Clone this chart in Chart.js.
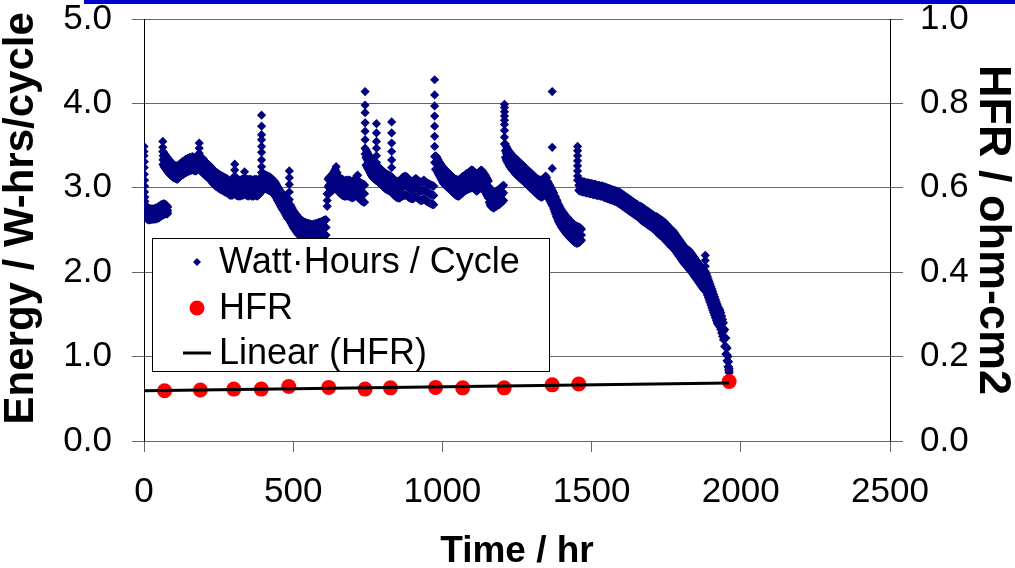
<!DOCTYPE html>
<html>
<head>
<meta charset="utf-8">
<script src="https://cdn.jsdelivr.net/npm/chart.js@4.4.1/dist/chart.umd.min.js"></script>
<style>
  body { margin: 0; background: #fff; }
  #wrap { width: 1015px; height: 568px; position: relative; }
</style>
</head>
<body>
<div id="wrap"><canvas id="myChart"></canvas></div>
<script>
const ctx = document.getElementById('myChart').getContext('2d');
const FONT = "'Liberation Sans', Arial, sans-serif";

// Watt-hours per cycle.
// Each row: [hours, readings at that hour...], one array per test run.
const whRun1 = [
    [0,3.49,3.43,3.38],[1,3.31,3.24,3.16],[2,3.09,3.02,2.95],[3,2.89,2.84,2.78],
    [4,2.80,2.74,2.68],[6,2.78,2.71,2.65],[8,2.77,2.70,2.64],[10,2.76,2.69,2.63],[12,2.75,2.69,2.63],
    [14,2.76,2.70,2.64],[16,2.74,2.68,2.62],[18,2.75,2.69,2.63],[20,2.74,2.68,2.62],[22,2.75,2.69,2.63],
    [24,2.74,2.68,2.63],[26,2.75,2.69,2.63],[28,2.74,2.68,2.63],[30,2.75,2.69,2.64],[32,2.74,2.68,2.63],
    [34,2.75,2.69,2.63],[36,2.74,2.69,2.64],[38,2.76,2.70,2.64],[40,2.75,2.69,2.63],[42,2.76,2.70,2.64],
    [44,2.75,2.69,2.64],[46,2.77,2.71,2.65],[48,2.76,2.70,2.64],[50,2.78,2.72,2.65],[52,2.77,2.71,2.65],
    [54,2.79,2.73,2.66],[56,2.78,2.72,2.66],[58,2.80,2.74,2.67],[60,2.79,2.73,2.67],[62,2.80,2.74,2.68],
    [64,2.81,2.75,2.69],[66,2.80,2.74,2.68],[68,2.81,2.75,2.69],[70,2.80,2.74,2.69],[72,2.80,2.75,2.70],
    [74,2.79,2.74,2.69],[76,2.79,2.74,2.70],[78,2.78,2.73,2.69],[79,2.77,2.73,2.70]
];
const whRun2 = [
    [63,3.55,3.48,3.43],[64,3.38,3.33,3.28],
    [66,3.42,3.34,3.26],[69,3.40,3.32,3.24],[72,3.39,3.31,3.23],[75,3.37,3.29,3.21],[78,3.36,3.28,3.20],
    [81,3.34,3.26,3.18],[84,3.33,3.25,3.17],[87,3.32,3.24,3.16],[90,3.30,3.23,3.15],[93,3.29,3.22,3.14],
    [96,3.28,3.21,3.13],[99,3.27,3.20,3.12],[102,3.27,3.19,3.12],[105,3.26,3.19,3.11],[108,3.26,3.18,3.11],
    [111,3.25,3.18,3.10],[114,3.26,3.18,3.11],[117,3.27,3.19,3.12],
    [120,3.28,3.20,3.13],[123,3.29,3.21,3.14],[126,3.30,3.22,3.15],[129,3.31,3.23,3.16],[132,3.31,3.24,3.16],
    [135,3.32,3.25,3.17],[138,3.33,3.25,3.18],[141,3.34,3.26,3.18],[144,3.33,3.26,3.19],[147,3.35,3.27,3.19],
    [150,3.34,3.27,3.20],[153,3.36,3.28,3.20],[156,3.35,3.28,3.21],[159,3.36,3.29,3.21],[162,3.37,3.29,3.22],
    [165,3.36,3.28,3.21],[168,3.35,3.28,3.21],[171,3.36,3.28,3.20],[174,3.35,3.27,3.20],[177,3.36,3.28,3.21],
    [180,3.37,3.29,3.22],[183,3.38,3.30,3.23],
    [185,3.53,3.47,3.41,3.36],
    [187,3.37,3.29,3.21],[190,3.36,3.28,3.20],[193,3.35,3.27,3.19],[196,3.35,3.26,3.18],[199,3.34,3.25,3.17],
    [202,3.32,3.24,3.16],[205,3.31,3.23,3.15],[208,3.30,3.22,3.14],[211,3.29,3.21,3.13],[214,3.28,3.20,3.12],
    [217,3.27,3.19,3.11],[220,3.26,3.18,3.10],[223,3.25,3.17,3.09],[226,3.24,3.16,3.08],[229,3.22,3.14,3.06],
    [232,3.21,3.13,3.05],[235,3.20,3.12,3.04],[238,3.19,3.11,3.03],[241,3.18,3.10,3.02],[244,3.18,3.10,3.01],
    [247,3.17,3.09,3.01],[250,3.16,3.08,3.00],[253,3.15,3.07,2.99],[256,3.15,3.07,2.98],[259,3.14,3.06,2.98],
    [262,3.14,3.06,2.97],[265,3.13,3.05,2.97],[268,3.12,3.04,2.96],[271,3.12,3.04,2.95],[274,3.11,3.03,2.95],
    [277,3.11,3.03,2.94],[280,3.10,3.02,2.94],
    [283,3.09,3.01,2.93],[286,3.08,3.00,2.92],[289,3.08,3.00,2.91],[292,3.09,3.01,2.92],[295,3.08,3.00,2.91],
    [298,3.09,3.00,2.92],[301,3.12,3.02,2.93],[304,3.28,3.21,3.14,3.06],[307,3.09,3.01,2.92],[310,3.08,3.00,2.91],
    [313,3.09,3.00,2.91],[316,3.08,2.99,2.90],[319,3.09,3.00,2.91],[322,3.08,2.99,2.90],[325,3.09,3.00,2.91],
    [328,3.10,3.01,2.92],[331,3.09,3.00,2.91],[334,3.11,3.02,2.93],[337,3.19,3.12,3.03],[340,3.10,3.01,2.92],
    [343,3.09,3.00,2.91],[346,3.10,3.01,2.92],[349,3.09,3.00,2.90],[352,3.10,3.01,2.92],[355,3.09,3.00,2.91],
    [358,3.10,3.01,2.92],[361,3.08,2.99,2.90],[364,3.09,3.00,2.91],[367,3.08,2.99,2.90],[370,3.10,3.01,2.92],
    [373,3.09,3.00,2.91],[376,3.10,3.01,2.92],[379,3.08,2.99,2.90],[382,3.09,3.00,2.91],[385,3.10,3.01,2.92],
    [388,3.11,3.02,2.93],[391,3.12,3.03,2.94],
    [394,3.86,3.73,3.63,3.57,3.49,3.42,3.33,3.25,3.18],
    [397,3.18,3.10,3.02],[400,3.16,3.08,3.00],[403,3.16,3.08,3.00],[406,3.15,3.07,2.99],[409,3.15,3.07,2.99],
    [412,3.14,3.06,2.98],[415,3.14,3.06,2.98],[418,3.13,3.05,2.97],[421,3.13,3.05,2.97],[424,3.12,3.04,2.96],
    [427,3.11,3.03,2.95],[430,3.10,3.02,2.94],[433,3.09,3.01,2.93],[436,3.08,3.00,2.92],[439,3.07,2.99,2.91],
    [442,3.05,2.97,2.89],[445,3.03,2.95,2.87],[448,3.01,2.93,2.85],[451,2.99,2.91,2.83],[454,2.97,2.89,2.81],
    [457,2.96,2.87,2.79],[460,2.95,2.86,2.77],[463,2.93,2.84,2.75],[466,2.92,2.83,2.74],[469,2.91,2.82,2.72],
    [472,2.90,2.80,2.70],[475,2.88,2.78,2.68],[478,2.86,2.76,2.66],[481,2.84,2.74,2.64],[484,2.83,2.73,2.63],
    [487,3.20,3.12,3.04,2.95,2.86],
    [490,2.80,2.70,2.60],[493,2.78,2.68,2.58],[496,2.76,2.66,2.56],[499,2.74,2.64,2.54],[502,2.72,2.62,2.52],
    [505,2.71,2.61,2.51],[508,2.69,2.59,2.49],[511,2.68,2.58,2.48],[514,2.66,2.56,2.46],[517,2.65,2.55,2.45],
    [520,2.64,2.54,2.44],[523,2.63,2.53,2.43],[526,2.62,2.52,2.42],[529,2.61,2.51,2.41],[532,2.60,2.50,2.40],
    [535,2.60,2.50,2.40],[538,2.59,2.49,2.39],[541,2.59,2.49,2.39],[544,2.58,2.48,2.38],[547,2.58,2.48,2.38],
    [550,2.58,2.48,2.38],[553,2.57,2.47,2.37],[556,2.57,2.47,2.37],[559,2.57,2.47,2.37],[562,2.56,2.46,2.36],
    [565,2.56,2.46,2.36],[568,2.57,2.47,2.37],[571,2.57,2.47,2.37],[574,2.57,2.47,2.37],[577,2.58,2.48,2.38],
    [580,2.58,2.48,2.38],[583,2.58,2.48,2.38],[586,2.59,2.49,2.39],[589,2.59,2.49,2.39],[592,2.59,2.49,2.40],
    [595,2.60,2.50,2.41],[598,2.60,2.51,2.42],[601,2.61,2.52,2.43],[604,2.61,2.52,2.43],[607,2.62,2.53,2.44],
    [610,2.62,2.53,2.44]
];
const whRun3 = [
    [614,2.93,2.85,2.78],
    [617,3.10,3.01,2.92],[620,3.12,3.03,2.94],[623,3.13,3.04,2.95],[626,3.14,3.05,2.96],[629,3.15,3.06,2.96],
    [632,3.16,3.06,2.97],[635,3.18,3.08,2.98],[638,3.20,3.10,3.00],[641,3.22,3.12,3.02],[644,3.25,3.14,3.03],
    [647,3.18,3.09,3.00],[650,3.14,3.05,2.96],[653,3.13,3.04,2.95],[656,3.12,3.03,2.94],[659,3.11,3.02,2.93],
    [662,3.10,3.01,2.92],[665,3.10,3.00,2.91],[668,3.09,3.00,2.91],[671,3.08,2.99,2.90],[674,3.08,2.99,2.90],
    [677,3.09,3.00,2.91],[680,3.08,2.99,2.90],[683,3.09,3.00,2.91],[686,3.08,2.99,2.90],[689,3.09,3.00,2.90],
    [692,3.08,2.99,2.89],[695,3.07,2.98,2.89],[698,3.08,2.98,2.88],[701,3.07,2.98,2.89],[704,3.08,2.99,2.89],
    [707,3.09,3.00,2.90],[710,3.11,3.01,2.91],[713,3.14,3.04,2.93],[716,3.15,3.05,2.95],[719,3.08,2.98,2.88],
    [722,3.07,2.97,2.87],[725,3.06,2.96,2.86],[728,3.05,2.95,2.85],[731,3.05,2.95,2.84],[734,3.04,2.94,2.84],
    [737,3.04,2.93,2.83],[739,3.03,2.93,2.83],
    [741,4.14,3.98,3.89,3.77,3.67,3.57,3.47,3.40],
    [744,3.45,3.36,3.27],[747,3.43,3.34,3.25],[750,3.41,3.32,3.23],[753,3.39,3.30,3.21],[756,3.37,3.28,3.19],
    [759,3.35,3.26,3.17],[762,3.33,3.24,3.15],[765,3.31,3.22,3.13],[768,3.30,3.21,3.12],[771,3.29,3.20,3.11],
    [774,3.28,3.19,3.10],[777,3.27,3.18,3.09],
    [779,3.76,3.65,3.55,3.47,3.38,3.30],
    [782,3.26,3.17,3.08],[785,3.25,3.16,3.07],[788,3.24,3.15,3.06],[791,3.23,3.14,3.05],[794,3.22,3.13,3.04],
    [797,3.21,3.12,3.03],[800,3.20,3.11,3.02],[803,3.19,3.10,3.01],[806,3.18,3.09,3.00],[809,3.17,3.08,2.99],
    [812,3.16,3.07,2.98],[815,3.16,3.07,2.98],[818,3.15,3.06,2.97],[821,3.15,3.06,2.97],[824,3.14,3.05,2.96],
    [827,3.14,3.05,2.96],
    [830,3.78,3.65,3.53,3.43,3.33,3.24],
    [833,3.12,3.03,2.94],[836,3.10,3.01,2.92],[839,3.09,3.00,2.91],[842,3.08,2.99,2.90],[845,3.08,2.99,2.89],
    [848,3.07,2.98,2.89],[851,3.08,2.98,2.88],[854,3.07,2.97,2.88],[857,3.08,2.98,2.88],[860,3.09,2.99,2.89],
    [863,3.10,3.00,2.90],[866,3.12,3.01,2.90],[869,3.13,3.02,2.91],[872,3.12,3.02,2.91],[875,3.14,3.03,2.92],
    [878,3.12,3.02,2.91],[881,3.13,3.02,2.91],[884,3.11,3.01,2.90],[887,3.10,3.00,2.89],[890,3.09,2.99,2.88],
    [893,3.08,2.98,2.88],[896,3.08,2.98,2.87],[899,3.07,2.97,2.87],[902,3.08,2.98,2.87],[905,3.09,2.99,2.88],
    [908,3.10,3.00,2.89],[911,3.11,3.01,2.90],[914,3.10,3.00,2.89],[917,3.09,2.99,2.88],[920,3.08,2.98,2.87],
    [923,3.07,2.97,2.86],[926,3.07,2.96,2.85],[929,3.06,2.96,2.85],[932,3.07,2.96,2.85],[935,3.08,2.97,2.86],
    [938,3.09,2.98,2.87],[941,3.08,2.97,2.86],[944,3.07,2.96,2.85],[947,3.06,2.95,2.84],[950,3.05,2.95,2.84],
    [953,3.05,2.94,2.83],[956,3.04,2.93,2.82],[959,3.04,2.93,2.82],[962,3.03,2.92,2.81],[965,3.03,2.92,2.81],
    [968,3.02,2.91,2.80],[971,3.02,2.91,2.80],
    [974,4.28,4.10,3.97,3.85,3.73,3.61,3.49,3.37,3.30],
    [977,3.38,3.30,3.22],[980,3.37,3.29,3.21],[983,3.35,3.27,3.19],[986,3.33,3.25,3.17],[989,3.31,3.23,3.15],
    [992,3.29,3.21,3.13],[995,3.28,3.19,3.11],[998,3.26,3.18,3.09],[1001,3.25,3.16,3.07],[1004,3.23,3.14,3.05],
    [1007,3.22,3.13,3.04],[1010,3.21,3.12,3.03],[1013,3.20,3.11,3.02],[1016,3.19,3.10,3.01],[1019,3.18,3.09,3.00],
    [1022,3.17,3.08,2.99],[1025,3.16,3.07,2.98],[1028,3.15,3.06,2.97],[1031,3.14,3.05,2.96],[1034,3.13,3.04,2.95],
    [1037,3.12,3.03,2.94],[1040,3.11,3.02,2.93],[1043,3.10,3.01,2.92],[1046,3.10,3.00,2.91],[1049,3.09,3.00,2.91],
    [1052,3.09,2.99,2.90],[1055,3.09,2.99,2.90],[1058,3.10,3.00,2.91],
    [1061,3.11,3.01,2.92],[1064,3.12,3.02,2.93],[1067,3.13,3.03,2.94],[1070,3.14,3.04,2.95],[1073,3.14,3.05,2.96],
    [1076,3.15,3.06,2.97],[1079,3.16,3.06,2.97],[1082,3.17,3.07,2.98],[1085,3.17,3.08,2.98],[1088,3.18,3.08,2.99],
    [1091,3.19,3.09,2.99],[1094,3.20,3.10,3.00],[1097,3.21,3.10,3.00],[1100,3.21,3.11,3.01],[1103,3.20,3.10,3.00],
    [1106,3.19,3.09,2.99],[1109,3.18,3.08,2.98],[1112,3.17,3.07,2.97],[1115,3.16,3.06,2.96],[1118,3.17,3.07,2.97],
    [1121,3.18,3.08,2.98],[1124,3.19,3.09,2.99],[1127,3.20,3.10,3.00],[1130,3.21,3.11,3.01],[1133,3.20,3.10,3.00],
    [1136,3.19,3.09,2.99],[1139,3.17,3.07,2.97],[1142,3.16,3.06,2.96],[1145,3.14,3.04,2.94],[1148,3.12,3.02,2.92],
    [1151,3.10,3.00,2.90],[1154,3.08,2.98,2.88],
    [1157,3.01,2.92,2.83],[1160,2.98,2.89,2.80],[1163,2.96,2.87,2.78],[1166,2.95,2.86,2.77],[1169,2.94,2.85,2.77],
    [1172,2.94,2.85,2.76],[1175,2.95,2.86,2.77],[1178,2.95,2.86,2.78],[1181,2.96,2.87,2.78],[1184,2.97,2.88,2.79],
    [1187,2.97,2.89,2.80],[1190,2.98,2.89,2.80],[1193,2.99,2.90,2.81],[1196,3.00,2.91,2.82],[1199,3.01,2.92,2.83],
    [1202,3.02,2.93,2.84],[1205,3.03,2.94,2.85],
    [1208,3.99,3.95,3.90,3.85,3.80,3.75,3.68,3.60,3.52],
    [1211,3.52,3.44,3.36],[1214,3.49,3.41,3.33],[1217,3.47,3.39,3.31],[1220,3.45,3.37,3.29],[1223,3.43,3.35,3.27],
    [1226,3.42,3.34,3.25],[1229,3.41,3.32,3.24],[1232,3.39,3.31,3.22],[1235,3.38,3.29,3.21],[1238,3.37,3.28,3.20],
    [1241,3.36,3.27,3.18],[1244,3.35,3.26,3.17],[1247,3.34,3.25,3.16],[1250,3.33,3.24,3.15],[1253,3.32,3.23,3.14],
    [1256,3.31,3.22,3.13],[1259,3.30,3.21,3.12],[1262,3.29,3.20,3.11],[1265,3.28,3.19,3.10],[1268,3.27,3.18,3.09],
    [1271,3.26,3.17,3.08],[1274,3.25,3.16,3.07],[1277,3.24,3.15,3.06],[1280,3.23,3.14,3.05],[1283,3.22,3.13,3.04],
    [1286,3.21,3.12,3.03],[1289,3.20,3.11,3.02],[1292,3.19,3.10,3.01],[1295,3.18,3.09,3.00],[1298,3.17,3.08,2.99],
    [1301,3.16,3.07,2.98],[1304,3.15,3.06,2.97],[1307,3.14,3.05,2.96],[1310,3.13,3.04,2.95],[1313,3.12,3.03,2.94],
    [1316,3.11,3.02,2.93],[1319,3.10,3.01,2.92],[1322,3.10,3.00,2.91],[1325,3.09,3.00,2.90],[1328,3.09,2.99,2.90],
    [1331,3.09,2.99,2.89],[1334,3.09,2.99,2.89],[1337,3.10,3.00,2.90],[1340,3.10,3.00,2.91],[1343,3.11,3.01,2.92],
    [1346,3.14,3.04,2.94],[1349,3.12,3.02,2.93],
    [1368,4.14,3.48,3.23],
    [1352,3.08,2.99,2.90],[1355,3.06,2.97,2.88],[1358,3.04,2.95,2.86],[1361,3.02,2.93,2.84],[1364,3.00,2.91,2.82],
    [1367,2.98,2.89,2.80],[1370,2.96,2.87,2.78],[1373,2.94,2.85,2.75],[1376,2.91,2.82,2.72],[1379,2.89,2.79,2.69],
    [1382,2.86,2.76,2.66],[1385,2.84,2.74,2.64],[1388,2.81,2.71,2.61],[1391,2.79,2.69,2.59],[1394,2.77,2.67,2.57],
    [1397,2.75,2.65,2.55],[1400,2.73,2.63,2.53],[1403,2.72,2.62,2.52],[1406,2.70,2.60,2.50],[1409,2.69,2.59,2.49],
    [1412,2.67,2.57,2.47],[1415,2.66,2.56,2.46],[1418,2.65,2.55,2.45],[1421,2.64,2.54,2.44],[1424,2.62,2.52,2.42],
    [1427,2.61,2.51,2.41],[1430,2.60,2.50,2.40],[1433,2.59,2.49,2.39],[1436,2.58,2.48,2.38],[1439,2.57,2.47,2.37],
    [1442,2.56,2.46,2.36],[1445,2.55,2.45,2.35],[1448,2.55,2.45,2.35],[1451,2.54,2.44,2.34],[1454,2.54,2.44,2.35],
    [1457,2.53,2.44,2.35],[1460,2.53,2.44,2.36],[1463,2.52,2.44,2.37],[1466,2.51,2.44,2.38]
];
const whRun4 = [
    [1453,3.49,3.44,3.38,3.32,3.26,3.20,3.14,3.09],
    [1457,3.09,3.03,2.97],[1461,3.08,3.02,2.96],[1465,3.08,3.02,2.96],[1469,3.07,3.01,2.95],[1473,3.07,3.01,2.95],
    [1477,3.07,3.01,2.95],[1481,3.06,3.00,2.94],[1485,3.06,3.00,2.94],[1489,3.06,3.00,2.94],[1493,3.05,2.99,2.93],
    [1497,3.05,2.99,2.93],[1501,3.05,2.99,2.93],[1505,3.04,2.98,2.92],[1509,3.04,2.98,2.92],[1513,3.04,2.98,2.92],
    [1517,3.03,2.97,2.91],[1521,3.03,2.97,2.91],[1525,3.03,2.97,2.91],[1529,3.02,2.96,2.90],[1533,3.02,2.96,2.90],
    [1537,3.02,2.96,2.90],
    [1541,3.01,2.95,2.89],[1545,3.01,2.95,2.88],[1549,3.00,2.94,2.88],[1553,3.00,2.94,2.87],[1557,2.99,2.93,2.87],
    [1561,2.99,2.93,2.86],[1565,2.98,2.92,2.86],[1569,2.98,2.92,2.85],[1573,2.97,2.91,2.85],[1577,2.97,2.91,2.84],
    [1581,2.96,2.90,2.84],[1585,2.96,2.90,2.83],[1589,2.95,2.89,2.82],[1593,2.95,2.88,2.81],[1597,2.94,2.87,2.80],
    [1601,2.93,2.86,2.79],
    [1605,2.92,2.85,2.78],[1609,2.91,2.84,2.77],[1613,2.90,2.83,2.76],[1617,2.89,2.82,2.75],[1621,2.88,2.81,2.74],
    [1625,2.87,2.80,2.73],[1629,2.86,2.79,2.72],[1633,2.85,2.78,2.71],[1637,2.84,2.77,2.70],[1641,2.83,2.76,2.69],
    [1645,2.82,2.75,2.68],[1649,2.81,2.74,2.67],[1653,2.80,2.73,2.66],[1657,2.79,2.72,2.65],[1661,2.78,2.71,2.64],
    [1665,2.78,2.70,2.62],[1669,2.77,2.69,2.61],[1673,2.76,2.68,2.60],[1677,2.75,2.67,2.59],[1681,2.74,2.66,2.58],
    [1685,2.73,2.65,2.57],[1689,2.72,2.64,2.56],[1693,2.71,2.63,2.55],[1697,2.70,2.62,2.54],[1701,2.69,2.61,2.53],
    [1705,2.68,2.60,2.52],[1709,2.67,2.59,2.51],[1713,2.66,2.58,2.50],
    [1717,2.66,2.57,2.48],[1721,2.65,2.56,2.47],[1725,2.64,2.55,2.45],[1729,2.63,2.54,2.44],[1733,2.62,2.53,2.43],
    [1737,2.61,2.52,2.42],[1741,2.60,2.50,2.40],[1745,2.59,2.49,2.39],[1749,2.57,2.47,2.37],[1753,2.56,2.46,2.36],
    [1757,2.54,2.44,2.34],[1761,2.53,2.43,2.33],[1765,2.51,2.41,2.31],[1769,2.50,2.40,2.30],
    [1773,2.49,2.39,2.29],[1777,2.47,2.37,2.27],[1781,2.45,2.35,2.25],[1785,2.43,2.33,2.23],[1789,2.41,2.31,2.21],
    [1793,2.39,2.29,2.19],[1797,2.37,2.27,2.17],[1801,2.35,2.25,2.15],[1805,2.33,2.23,2.13],[1809,2.31,2.21,2.11],
    [1813,2.29,2.19,2.09],[1817,2.28,2.18,2.08],[1821,2.27,2.17,2.06],[1825,2.26,2.15,2.04],[1829,2.25,2.14,2.03],
    [1833,2.23,2.12,2.01],[1837,2.21,2.10,1.99],[1841,2.19,2.08,1.97],[1845,2.17,2.06,1.95],[1849,2.15,2.04,1.93],
    [1853,2.13,2.02,1.91],[1857,2.11,2.00,1.89],[1861,2.09,1.98,1.87],[1865,2.07,1.96,1.85],[1869,2.05,1.94,1.83],
    [1873,2.03,1.92,1.81],[1877,2.01,1.90,1.79],
    [1881,2.20,2.14,2.07,2.01,1.95],
    [1885,1.98,1.87,1.76],[1888,1.95,1.84,1.73],[1891,1.92,1.81,1.70],[1894,1.89,1.78,1.67],[1897,1.86,1.75,1.64],
    [1900,1.83,1.72,1.61],[1903,1.80,1.69,1.58],[1906,1.77,1.66,1.55],[1909,1.74,1.63,1.52],[1912,1.71,1.60,1.49],
    [1915,1.68,1.57,1.46],[1918,1.65,1.54,1.43],[1921,1.62,1.51,1.40],[1924,1.59,1.49,1.38],[1927,1.57,1.47,1.37],
    [1930,1.55,1.45,1.35],[1933,1.52,1.42,1.32],[1936,1.48,1.38,1.28],[1939,1.44,1.34,1.24],[1942,1.40,1.30,1.20],
    [1946,1.32,1.22,1.12],[1950,1.22,1.12,1.03],[1954,1.10,1.02,0.95],[1957,1.00,0.94,0.88],[1959,0.94,0.88,0.84],
    [1961,0.86,0.83,0.81]
];

// HFR measurements (right axis)
const hfrHours = [69, 189, 301, 393, 485, 619, 741, 826, 977, 1068, 1207, 1368, 1457, 1961];
const hfrValues = [0.119, 0.121, 0.123, 0.123, 0.129, 0.127, 0.123, 0.126, 0.127, 0.126, 0.126, 0.133, 0.135, 0.141];

// linear trend line of HFR, end points
const trendHours = [0, 1961];
const trendValues = [0.119, 0.1375];

const rowsToXY = rows => rows.flatMap(r => r.slice(1).map(v => ({ x: r[0], y: v })));
const wattHours = [whRun1, whRun2, whRun3, whRun4].flatMap(rowsToXY);
const hfr = hfrHours.map((h, i) => ({ x: h, y: hfrValues[i] }));
const trend = trendHours.map((h, i) => ({ x: h, y: trendValues[i] }));

// legend drawn as a boxed panel inside the plot, like the original
const legendPanel = {
    id: 'legendPanel',
    afterDraw(chart) {
        const c = chart.ctx;
        const ds = chart.data.datasets;
        c.save();
        c.fillStyle = '#fff';
        c.fillRect(152, 238, 397, 133);
        c.strokeStyle = '#000';
        c.lineWidth = 1;
        c.strokeRect(152.5, 238.5, 397, 133);

        c.fillStyle = '#000080';
        c.beginPath();
        c.moveTo(197, 258); c.lineTo(201, 262); c.lineTo(197, 266); c.lineTo(193, 262);
        c.closePath(); c.fill();

        c.fillStyle = '#ff0000';
        c.beginPath(); c.arc(197, 308, 7.5, 0, Math.PI * 2); c.fill();

        c.strokeStyle = '#000';
        c.lineWidth = 3;
        c.beginPath(); c.moveTo(183, 353); c.lineTo(211, 353); c.stroke();

        c.fillStyle = '#000';
        c.font = '36px ' + FONT;
        c.textBaseline = 'middle';
        c.fillText(ds[2].label, 219, 263);
        c.fillText(ds[1].label, 219, 309);
        c.fillText(ds[0].label, 219, 354);
        c.restore();
    }
};

const topBar = {
    id: 'topBar',
    afterDraw(chart) {
        const c = chart.ctx;
        c.save();
        c.fillStyle = '#0000cc';
        c.fillRect(84, 0, 931, 4);
        c.restore();
    }
};

const tickFont = { family: FONT, size: 35, lineHeight: 1 };
const noPad = s => { s.paddingTop = 0; s.paddingBottom = 0; s.paddingLeft = 0; s.paddingRight = 0; };

const myChart = new Chart(ctx, {
    type: 'scatter',
    data: {
        datasets: [{
            label: 'Linear (HFR)',
            type: 'line',
            data: trend,
            yAxisID: 'y2',
            borderColor: '#000',
            borderWidth: 3,
            pointRadius: 0,
            fill: false,
            order: 0
        }, {
            label: 'HFR',
            data: hfr,
            yAxisID: 'y2',
            backgroundColor: '#ff0000',
            borderWidth: 0,
            pointRadius: 7.5,
            order: 1
        }, {
            label: 'Watt\u00b7Hours / Cycle',
            data: wattHours,
            yAxisID: 'y',
            pointStyle: 'rectRot',
            pointRadius: 4.6,
            backgroundColor: '#000080',
            borderWidth: 0,
            order: 2
        }]
    },
    options: {
        responsive: true,
        maintainAspectRatio: false,
        animation: false,
        events: [],
        layout: { padding: { top: 19, left: 0, right: 0, bottom: 0 } },
        plugins: {
            legend: { display: false },
            tooltip: { enabled: false }
        },
        scales: {
            x: {
                type: 'linear',
                min: 0,
                max: 2500,
                ticks: { stepSize: 500, font: tickFont, color: '#000', padding: 23, maxRotation: 0, callback: v => String(v) },
                grid: { drawOnChartArea: false, tickLength: 11, color: '#666' },
                border: { color: '#666' },
                title: {
                    display: true,
                    text: 'Time / hr',
                    color: '#000',
                    font: { family: FONT, size: 37, weight: 'bold', lineHeight: 1 },
                    padding: { top: 0, bottom: -2 }
                },
                afterFit: s => { noPad(s); s.height = 127; }
            },
            y: {
                position: 'left',
                min: 0,
                max: 5,
                ticks: { stepSize: 1, font: tickFont, color: '#000', padding: 20, callback: v => v.toFixed(1) },
                grid: { color: '#666', tickLength: 12 },
                border: { color: '#000' },
                title: {
                    display: true,
                    text: '  Energy / W-hrs/cycle',
                    color: '#000',
                    font: { family: FONT, size: 42, weight: 'bold', lineHeight: 1 },
                    padding: { top: 0, bottom: 0 }
                },
                afterFit: s => { noPad(s); s.width = 144; }
            },
            y2: {
                position: 'right',
                min: 0,
                max: 1,
                ticks: { stepSize: 0.2, font: tickFont, color: '#000', padding: 17, callback: v => v.toFixed(1) },
                grid: { drawOnChartArea: false, tickLength: 13, color: '#666' },
                border: { color: '#000' },
                title: {
                    display: true,
                    text: 'HFR / ohm-cm2',
                    color: '#000',
                    font: { family: FONT, size: 45, weight: 'bold', lineHeight: 1 },
                    padding: { top: 0, bottom: 0 }
                },
                afterFit: s => { noPad(s); s.width = 125; }
            }
        }
    },
    plugins: [legendPanel, topBar]
});
</script>
</body>
</html>
